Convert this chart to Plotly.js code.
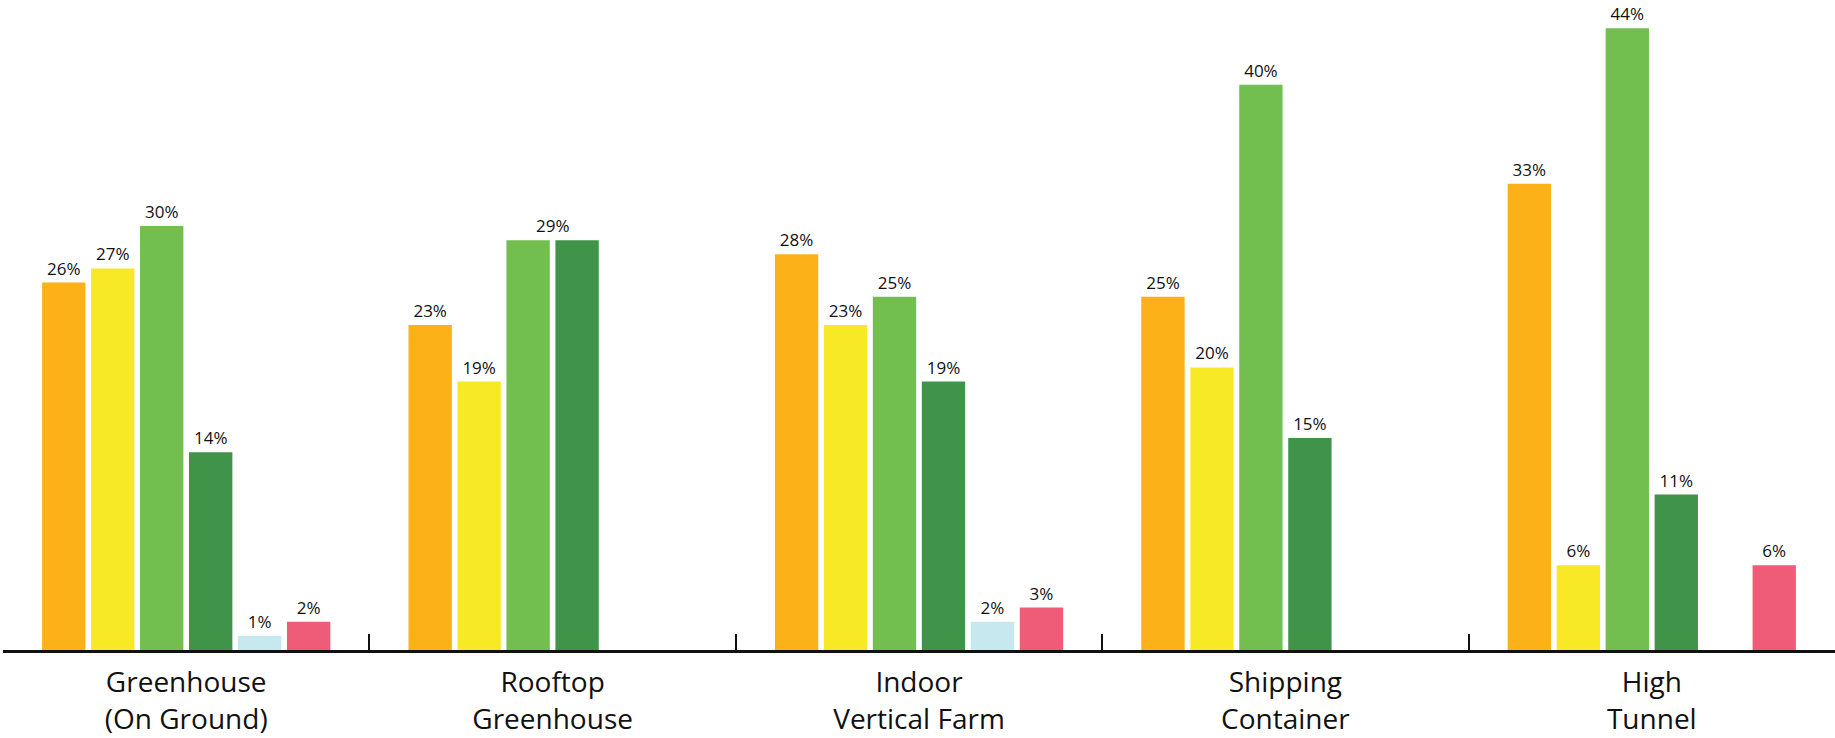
<!DOCTYPE html>
<html>
<head>
<meta charset="utf-8">
<script src="https://cdn.plot.ly/plotly-3.0.1.min.js"></script>
<style>html,body{margin:0;padding:0;background:#fff;}#chart{width:1835px;height:738px;}</style>
</head>
<body>
<div id="chart"></div>
<script>
// Categories (tick labels)
const categories = [
  "Greenhouse<br>(On Ground)",
  "Rooftop<br>Greenhouse",
  "Indoor<br>Vertical Farm",
  "Shipping<br>Container",
  "High<br>Tunnel"
];

// Series values (percent); null = no bar
const seriesA = [26, 23, 28, 25, 33];        // orange
const seriesB = [27, 19, 23, 20, 6];         // yellow
const seriesC = [30, 29, 25, 40, 44];        // light green
const seriesD = [14, 29, 19, 15, 11];        // dark green
const seriesE = [1, null, 2, null, null];    // light blue
const seriesF = [2, null, 3, null, 6];       // pink

const seriesNames = ["Series A", "Series B", "Series C", "Series D", "Series E", "Series F"];
const seriesColors = ["#FBB117", "#F7E926", "#72BF4F", "#3F9449", "#C6E8EE", "#EF5C77"];
const allSeries = [seriesA, seriesB, seriesC, seriesD, seriesE, seriesF];

// One shared label drawn over the two green bars of this group
const mergedLabelCategory = "Rooftop<br>Greenhouse";
const mergedLabelValue = 29;
const mergedSeriesIdx = [2, 3];

const fontFamily = "'Open Sans', 'Noto Sans', sans-serif";

const traces = allSeries.map((vals, si) => ({
  type: "bar",
  name: seriesNames[si],
  x: categories,
  y: vals,
  text: vals.map((v, ci) => {
    if (v === null) return "";
    if (mergedSeriesIdx.includes(si) && categories[ci] === mergedLabelCategory) return "";
    return v + "%";
  }),
  textposition: "outside",
  cliponaxis: false,
  constraintext: "none",
  textfont: {family: fontFamily, size: 17, color: "#111"},
  marker: {color: seriesColors[si], line: {width: 0}},
  hoverinfo: "skip"
}));

const layout = {
  width: 1835,
  height: 738,
  margin: {l: 3, r: 0, t: 0, b: 88},
  paper_bgcolor: "#fff",
  plot_bgcolor: "#fff",
  showlegend: false,
  barmode: "group",
  bargap: 0.198,
  bargroupgap: 0.115,
  font: {family: fontFamily, color: "#111"},
  xaxis: {
    type: "category",
    range: [-0.5, 4.5],
    showline: true,
    linecolor: "#111",
    linewidth: 2.5,
    ticks: "inside",
    tickson: "boundaries",
    ticklen: 16,
    tickwidth: 2,
    tickcolor: "#111",
    showgrid: false,
    zeroline: false,
    ticklabelstandoff: 6,
    tickfont: {family: fontFamily, size: 28, color: "#111"},
    fixedrange: true
  },
  yaxis: {
    range: [0, 46],
    visible: false,
    showgrid: false,
    zeroline: false,
    fixedrange: true
  },
  annotations: [{
    x: mergedLabelCategory,
    y: mergedLabelValue,
    xref: "x",
    yref: "y",
    text: mergedLabelValue + "%",
    showarrow: false,
    yanchor: "bottom",
    yshift: 1,
    font: {family: fontFamily, size: 17, color: "#111"}
  }]
};

Plotly.newPlot("chart", traces, layout, {displayModeBar: false, staticPlot: true});
</script>
</body>
</html>
